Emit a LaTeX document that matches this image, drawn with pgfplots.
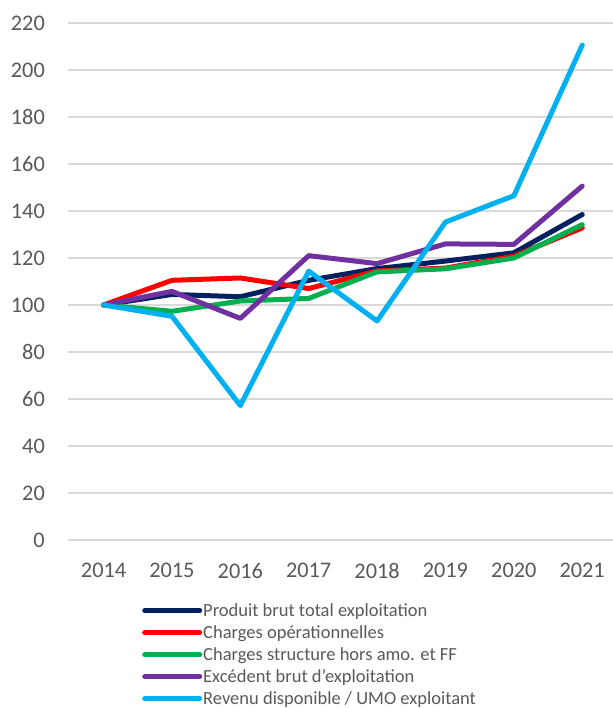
\documentclass[border=0pt]{standalone}
\usepackage{pgfplots}
\pgfplotsset{compat=1.18}
\usepackage{fontspec}
\setmainfont{Carlito}
\definecolor{cnavy}{HTML}{002060}
\definecolor{cred}{HTML}{FF0000}
\definecolor{cgreen}{HTML}{00B050}
\definecolor{cpurple}{HTML}{7030A0}
\definecolor{ccyan}{HTML}{00B0F0}
\definecolor{ctext}{HTML}{595959}
\definecolor{cgrid}{HTML}{D9D9D9}
\begin{document}
\begin{tikzpicture}
\path[use as bounding box] (-68bp,-168bp) rectangle (545bp,540bp);
\begin{axis}[
  at={(0,0)}, anchor=south west,
  scale only axis,
  width=545bp, height=517bp,
  xmin=2013.48, xmax=2021.45,
  ymin=0, ymax=220,
  xtick={2014,...,2021},
  ytick={0,20,...,220},
  axis line style={draw=none},
  major tick length=0pt,
  ymajorgrids,
  grid style={draw=cgrid, line width=1.5bp},
  /pgf/number format/assume math mode=true,
  /pgf/number format/1000 sep={},
  xticklabel style={font=\fontsize{22.3bp}{26bp}\selectfont, text=ctext, inner sep=0pt, anchor=north, yshift=-23bp},
  yticklabel style={font=\fontsize{22.3bp}{26bp}\selectfont, text=ctext, inner sep=0pt, anchor=east, xshift=-23bp},
  legend style={
    at={(0.1358,-0.118)}, anchor=north west,
    draw=none, fill=none, inner sep=0pt,
    font=\fontsize{18.5bp}{22bp}\selectfont, text=ctext,
    legend cell align=left,
    row sep=3bp,
    nodes={inner xsep=1bp, inner ysep=0pt, text height=15bp, text depth=4bp},
  },
  legend image code/.code={\draw[line width=5bp, line cap=round] (0bp,0bp) -- (55bp,0bp);},
  every axis plot/.append style={line width=5bp, line cap=round, line join=round},
]
\addplot[cnavy] coordinates {(2014,100) (2015,104.5) (2016,103.5) (2017,110.5) (2018,115.5) (2019,118.7) (2020,122.2) (2021,138.5)};
\addlegendentry{Produit brut total exploitation}
\addplot[cred] coordinates {(2014,100) (2015,110.5) (2016,111.5) (2017,107) (2018,114.5) (2019,115.7) (2020,120.8) (2021,132.8)};
\addlegendentry{Charges opérationnelles}
\addplot[cgreen] coordinates {(2014,100) (2015,97.3) (2016,101.7) (2017,102.8) (2018,114.1) (2019,115.4) (2020,120) (2021,134.2)};
\addlegendentry{Charges structure hors amo. et FF}
\addplot[cpurple] coordinates {(2014,100) (2015,105.8) (2016,94.3) (2017,121) (2018,117.6) (2019,126) (2020,125.8) (2021,150.6)};
\addlegendentry{Excédent brut d’exploitation}
\addplot[ccyan] coordinates {(2014,100) (2015,95.2) (2016,57.2) (2017,114.4) (2018,93.2) (2019,135.3) (2020,146.5) (2021,210.6)};
\addlegendentry{Revenu disponible / UMO exploitant}
\end{axis}
\end{tikzpicture}
\end{document}
